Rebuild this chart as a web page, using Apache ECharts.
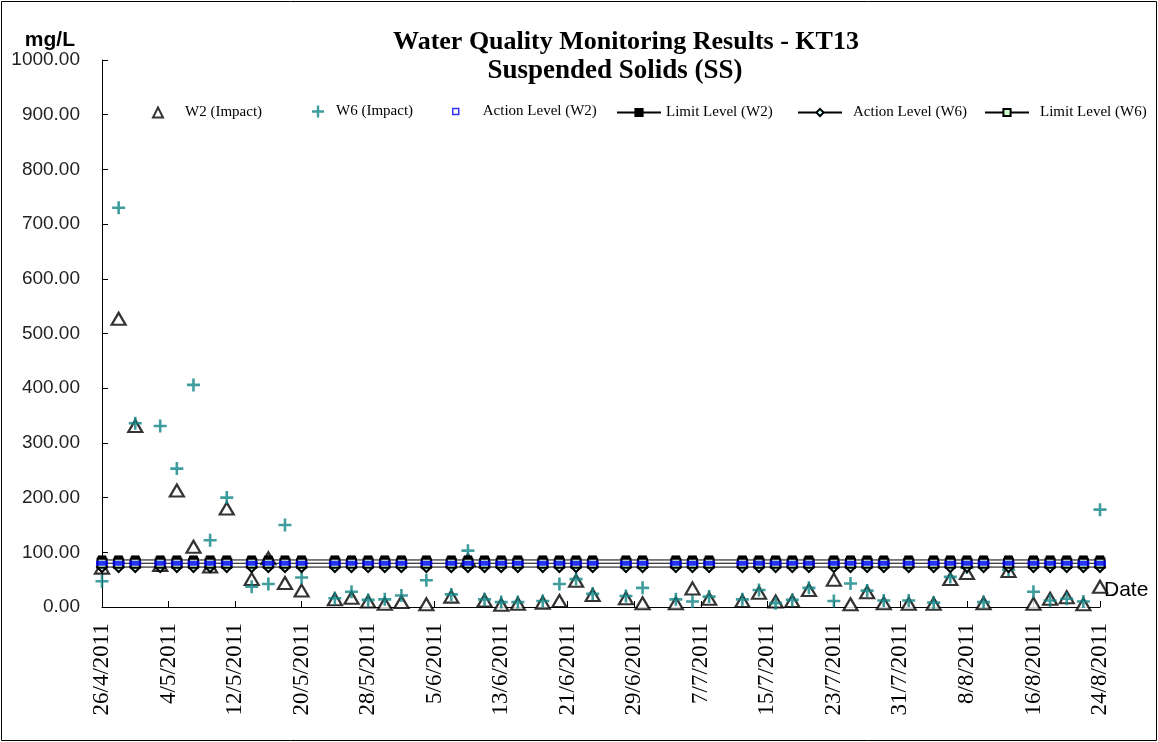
<!DOCTYPE html>
<html>
<head>
<meta charset="utf-8">
<script src="https://cdn.jsdelivr.net/npm/echarts@6/dist/echarts.min.js"></script>
<style>
  html, body { margin: 0; padding: 0; background: #fff; }
  #chart { width: 1158px; height: 742px; }
</style>
</head>
<body>
<div id="chart"></div>
<script>
// sampling dates
var sampleDates = [
  '2011-04-26', '2011-04-28', '2011-04-30', '2011-05-03', '2011-05-05', '2011-05-07',
  '2011-05-09', '2011-05-11', '2011-05-14', '2011-05-16', '2011-05-18', '2011-05-20',
  '2011-05-24', '2011-05-26', '2011-05-28', '2011-05-30', '2011-06-01', '2011-06-04',
  '2011-06-07', '2011-06-09', '2011-06-11', '2011-06-13', '2011-06-15', '2011-06-18',
  '2011-06-20', '2011-06-22', '2011-06-24', '2011-06-28', '2011-06-30', '2011-07-04',
  '2011-07-06', '2011-07-08', '2011-07-12', '2011-07-14', '2011-07-16', '2011-07-18',
  '2011-07-20', '2011-07-23', '2011-07-25', '2011-07-27', '2011-07-29', '2011-08-01',
  '2011-08-04', '2011-08-06', '2011-08-08', '2011-08-10', '2011-08-13', '2011-08-16',
  '2011-08-18', '2011-08-20', '2011-08-22', '2011-08-24'
]

// SS (mg/L) at W2 and W6
var w2Impact = [
  72, 527, 331, 77, 213, 110, 74, 180, 51, 89, 44, 30,
  14, 17, 10, 6, 9, 5, 19, 86, 12, 4, 6, 8,
  11, 48, 22, 16, 7, 7, 34, 15, 11, 26, 10, 11,
  31, 50, 5, 27, 7, 6, 6, 51, 62, 7, 66, 6,
  15, 18, 5, 37
]
var w6Impact = [
  47, 730, 336, 331, 253, 406, 122, 200, 37, 42, 150, 54,
  16, 28, 13, 14, 21, 49, 23, 103, 14, 9, 9, 11,
  42, 51, 24, 20, 35, 14, 10, 19, 14, 31, 7, 13,
  35, 11, 43, 30, 12, 12, 8, 55, 72, 9, 68, 28,
  12, 15, 10, 178
]

// action / limit levels
var levelNames = ['Action Level (W2)', 'Limit Level (W2)', 'Action Level (W6)', 'Limit Level (W6)']
var levelValues = [80, 86, 73, 80]

// x axis: 26/4/2011 .. 24/8/2011, label every 8 days
var axisStart = '2011-04-26'
var axisDays = 120
var tickStep = 8

var DAY = 86400000
function toUtc (s) {
  var p = s.split('-')
  return Date.UTC(+p[0], +p[1] - 1, +p[2])
}
var t0 = toUtc(axisStart)
function dayOf (s) { return Math.round((toUtc(s) - t0) / DAY) }
function dateLabel (v) {
  var d = new Date(t0 + v * DAY)
  return d.getUTCDate() + '/' + (d.getUTCMonth() + 1) + '/' + d.getUTCFullYear()
}

var xs = sampleDates.map(dayOf)
function pairs (vals) { return xs.map(function (x, i) { return [x, vals[i]] }) }
function flat (v) { return xs.map(function (x) { return [x, v] }) }

var serif = 'Liberation Serif, Times New Roman, serif'
var sans = 'Liberation Sans, Arial, sans-serif'
var plus = 'path://M4,0H6V4H10V6H6V10H4V6H0V4H4Z'
var teal = '#0f8585'

var legendText = { fontFamily: serif, fontSize: 15, color: '#000' }

var chart = echarts.init(document.getElementById('chart'))
chart.setOption({
  animation: false,
  backgroundColor: '#fff',
  title: [
    {
      text: 'Water Quality Monitoring Results - KT13',
      left: 621, top: 24, textAlign: 'center',
      textStyle: { fontFamily: serif, fontSize: 26, fontWeight: 'bold', color: '#000' }
    },
    {
      text: 'Suspended Solids (SS)',
      left: 610, top: 53, textAlign: 'center',
      textStyle: { fontFamily: serif, fontSize: 27, fontWeight: 'bold', color: '#000' }
    }
  ],
  legend: [
    {
      data: ['W2 (Impact)'], left: 147, top: 100, itemWidth: 10, itemHeight: 10,
      textStyle: Object.assign({ padding: [0, 0, 0, 17] }, legendText)
    },
    {
      data: ['W6 (Impact)'], left: 307, top: 99, itemWidth: 12, itemHeight: 12,
      textStyle: Object.assign({ padding: [0, 0, 0, 7] }, legendText)
    },
    {
      data: [{ name: 'Action Level (W2)', icon: 'rect', itemStyle: { color: '#fff', borderColor: '#0000ff', borderWidth: 1.5 } }],
      left: 447, top: 99, itemWidth: 6, itemHeight: 6,
      textStyle: Object.assign({ padding: [0, 0, 0, 19] }, legendText)
    },
    {
      data: ['Limit Level (W2)'], left: 611, top: 100, itemWidth: 44, itemHeight: 9,
      textStyle: legendText
    },
    {
      data: ['Action Level (W6)'], left: 792, top: 100, itemWidth: 44, itemHeight: 9,
      textStyle: Object.assign({ padding: [0, 0, 0, 6] }, legendText)
    },
    {
      data: ['Limit Level (W6)'], left: 979, top: 100, itemWidth: 44, itemHeight: 9,
      textStyle: Object.assign({ padding: [0, 0, 0, 6] }, legendText)
    }
  ],
  grid: { left: 102, right: 58, top: 60, bottom: 135 },
  xAxis: {
    type: 'value',
    min: 0,
    max: axisDays,
    interval: tickStep,
    name: 'Date',
    nameLocation: 'end',
    nameGap: 4,
    nameTextStyle: { fontFamily: sans, fontSize: 21, color: '#000', verticalAlign: 'bottom', padding: [0, 0, 6, 0] },
    axisLine: { lineStyle: { color: '#000', width: 1 } },
    axisTick: { inside: true, length: 6, lineStyle: { color: '#000' } },
    splitLine: { show: false },
    axisLabel: {
      rotate: 90,
      margin: 16,
      fontFamily: serif,
      fontSize: 23,
      color: '#000',
      formatter: dateLabel
    }
  },
  yAxis: {
    type: 'value',
    min: 0,
    max: 1000,
    interval: 100,
    name: 'mg/L',
    nameLocation: 'end',
    nameGap: 4,
    nameTextStyle: { fontFamily: sans, fontSize: 21, fontWeight: 'bold', color: '#000', align: 'right', padding: [0, 27, 0, 0] },
    axisLine: { show: true, lineStyle: { color: '#000', width: 1 } },
    axisTick: { show: true, inside: true, length: 6, lineStyle: { color: '#000' } },
    splitLine: { show: false },
    axisLabel: {
      margin: 22,
      fontFamily: sans,
      fontSize: 19,
      color: '#222',
      formatter: function (v) { return v.toFixed(2) }
    }
  },
  series: [
    {
      name: 'W2 (Impact)',
      type: 'scatter',
      symbol: 'triangle',
      symbolSize: [14, 12],
      z: 2,
      itemStyle: { color: '#fff', borderColor: '#000', borderWidth: 2.2 },
      data: pairs(w2Impact)
    },
    {
      name: 'W6 (Impact)',
      type: 'scatter',
      symbol: plus,
      symbolSize: 13,
      z: 3,
      itemStyle: { color: teal },
      data: pairs(w6Impact)
    },
    {
      name: levelNames[0],
      type: 'scatter',
      symbol: 'rect',
      symbolSize: [12, 5],
      z: 6,
      itemStyle: { color: '#0000ff' },
      data: flat(levelValues[0])
    },
    {
      name: levelNames[1],
      type: 'line',
      symbol: 'rect',
      symbolSize: 8,
      showAllSymbol: true,
      z: 4,
      lineStyle: { color: '#000', width: 1 },
      itemStyle: { color: '#000', borderColor: '#000', borderWidth: 1 },
      data: flat(levelValues[1])
    },
    {
      name: levelNames[2],
      type: 'line',
      symbol: 'diamond',
      symbolSize: 10,
      showAllSymbol: true,
      z: 4,
      lineStyle: { color: '#000', width: 1 },
      itemStyle: { color: '#ccffff', borderColor: '#000', borderWidth: 2 },
      data: flat(levelValues[2])
    },
    {
      name: levelNames[3],
      type: 'line',
      symbol: 'rect',
      symbolSize: 9,
      showAllSymbol: true,
      z: 5,
      lineStyle: { color: '#000', width: 1 },
      itemStyle: { color: '#ccffcc', borderColor: '#000', borderWidth: 2 },
      data: flat(levelValues[3])
    }
  ],
  graphic: [
    {
      type: 'rect',
      shape: { x: 1.5, y: 1.5, width: 1155, height: 739 },
      style: { fill: null, stroke: '#000', lineWidth: 1 },
      silent: true
    }
  ]
})
</script>
</body>
</html>
